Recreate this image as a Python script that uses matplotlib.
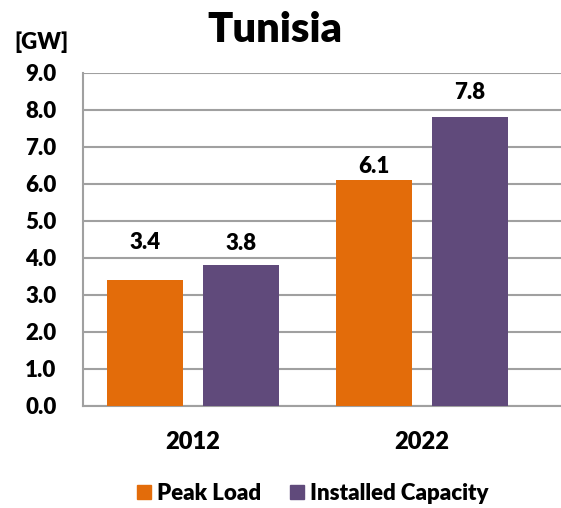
import matplotlib
matplotlib.use("Agg")
import matplotlib.pyplot as plt
import numpy as np
from matplotlib.patches import Patch

years = ["2012", "2022"]
peak_load = [3.4, 6.1]
installed_capacity = [3.8, 7.8]
series_names = ["Peak Load", "Installed Capacity"]
y_ticks = [0, 1, 2, 3, 4, 5, 6, 7, 8, 9]

FONT = ["Lato", "DejaVu Sans"]
plt.rcParams["font.family"] = FONT
WT = "heavy"
plt.rcParams["font.weight"] = WT

c_orange = "#E36C0A"
c_purple = "#604A7B"
grid_c = "#A0A0A0"

fig = plt.figure(figsize=(5.61, 5.08), dpi=100)
ax = fig.add_axes([0.148, 0.2008, 0.852, 0.6555])

x = np.arange(len(years))
w = 0.332
off = 0.208
b1 = ax.bar(x - off, peak_load, w, color=c_orange, zorder=3)
b2 = ax.bar(x + off, installed_capacity, w, color=c_purple, zorder=3)

label_offsets = [[27, 10], [16, 18]]  # points above bar top
for bars, vals, offs in [(b1, peak_load, label_offsets[0]), (b2, installed_capacity, label_offsets[1])]:
    for rect, v, o in zip(bars, vals, offs):
        ax.annotate(f"{v:.1f}", (rect.get_x() + rect.get_width() / 2, v),
                    xytext=(0, o), textcoords="offset points",
                    ha="center", va="center", fontsize=16, fontweight=WT)

ax.set_ylim(0, 9)
ax.set_xlim(-0.48, 1.607)
ax.set_yticks(y_ticks)
ax.set_yticklabels([f"{t:.1f}" for t in y_ticks], fontsize=16, fontweight=WT)
ax.set_xticks(x)
ax.set_xticklabels(years, fontsize=17, fontweight=WT)
ax.tick_params(axis="both", length=0)
ax.tick_params(axis="y", pad=19)
ax.tick_params(axis="x", pad=18)

ax.yaxis.grid(True, color=grid_c, linewidth=1.5, zorder=0)
ax.set_axisbelow(True)
for s in ["top", "right"]:
    ax.spines[s].set_visible(False)
for s in ["left", "bottom"]:
    ax.spines[s].set_color(grid_c)
    ax.spines[s].set_linewidth(1.5)

fig.text(0.49, 0.94, "Tunisia", ha="center", va="center", fontsize=30, fontweight=WT)
fig.text(0.073, 0.917, "[GW]", ha="center", va="center", fontsize=16, fontweight=WT)

handles = [Patch(color=c_orange), Patch(color=c_purple)]
fig.legend(handles, series_names, loc="center", bbox_to_anchor=(0.558, 0.028), ncol=2,
           frameon=False, handlelength=0.6, handleheight=0.6,
           handletextpad=0.3, columnspacing=1.3, prop={"weight": WT, "size": 16})

fig.savefig("out.png", dpi=100)
